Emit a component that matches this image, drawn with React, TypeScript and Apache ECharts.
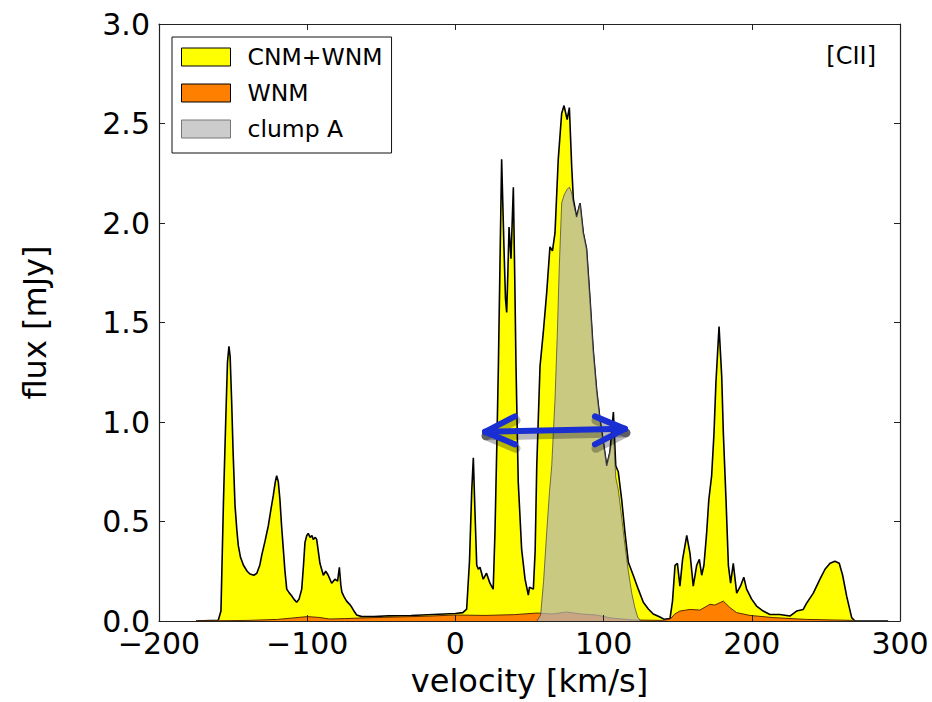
import React, { useEffect, useRef } from "react";
import * as echarts from "echarts";

// CNM+WNM total spectrum
const totalVel = [
  -175, -160, -158.2, -156.5, -155, -153.8, -152.8, -152, -151, -150, -148.7, -147.5, -146.5, -145, -143,
  -140.5, -138.6, -136, -134, -132, -130.7, -128.5, -126.2, -124.5, -122.9, -121.5, -120.6, -119.5, -118.4,
  -117.3, -116.1, -115, -113.8, -112, -110.5, -109, -107.1, -105.5, -103.7, -102.5, -101.5, -100.3, -99.3,
  -98, -96.8, -95.9, -94.5, -93.6, -92.5, -91.4, -89.1, -87.5, -85.8, -83.5, -81.3, -79.5, -78.3, -77.3,
  -76.6, -75, -73.4, -71.5, -70, -68, -66.6, -63.2, -55, -45, -30, -15, 0, 5, 7.6, 9.5, 11, 12.1, 13.2,
  14.4, 15.5, 16.6, 18.8, 21, 23.3, 25.5, 26.7, 28, 29, 30.2, 31.2, 32.8, 33.8, 34.6, 35.4, 36.2, 37.5,
  39.1, 40, 40.9, 42.4, 44.7, 47, 49.2, 50, 52.6, 53.8, 54.9, 57.1, 59.3, 61.6, 63.8, 65.5, 67.2, 69.4,
  71.7, 73.3, 75.4, 76.9, 78.5, 79.6, 81.8, 84.1, 86.3, 88.5, 90.8, 93, 95.3, 97.6, 99.8, 102.1, 104.3,
  106.6, 108.2, 109.9, 112.2, 114.4, 116.7, 120, 123.4, 126.8, 130.2, 133.5, 138, 141, 144.8, 146.5, 148.2,
  149.8, 151.5, 153.3, 156.1, 158.3, 160.5, 162.8, 164.6, 166.2, 167.7, 169.5, 171, 172.9, 174.5, 175.8,
  177.9, 179.7, 180.8, 182.6, 184.2, 185.7, 187.5, 189.8, 192.4, 194.6, 196.5, 199.9, 203.2, 207.7, 212.2,
  218.9, 225.7, 230.2, 234.7, 237, 241.5, 246, 249.4, 252.8, 256.1, 259, 261.3, 264, 267.4, 269.6, 292,
];
const totalFlux = [
  0, 0.004, 0.05, 0.6, 1.0, 1.3, 1.38, 1.33, 1.11, 0.85, 0.58, 0.46, 0.38, 0.32, 0.28,
  0.25, 0.236, 0.23, 0.24, 0.28, 0.33, 0.4, 0.48, 0.56, 0.63, 0.7, 0.73, 0.7, 0.61,
  0.48, 0.36, 0.25, 0.16, 0.14, 0.127, 0.11, 0.094, 0.11, 0.16, 0.28, 0.395, 0.43, 0.44,
  0.42, 0.43, 0.41, 0.42, 0.41, 0.35, 0.29, 0.23, 0.25, 0.23, 0.19, 0.21, 0.2, 0.27, 0.18,
  0.145, 0.12, 0.1, 0.085, 0.07, 0.045, 0.03, 0.022, 0.022, 0.026, 0.028, 0.033, 0.038, 0.042, 0.06, 0.3, 0.65, 0.82, 0.55,
  0.28, 0.26, 0.27, 0.21, 0.24, 0.19, 0.16, 0.445, 0.9, 1.28, 1.85, 2.32, 1.87, 1.62, 1.55, 1.75, 1.98, 1.82,
  2.18, 1.75, 1.28, 0.7, 0.36, 0.21, 0.13, 0.17, 0.16, 0.35, 0.78, 1.28, 1.45, 1.65, 1.88, 1.86, 1.95, 2.32,
  2.55, 2.59, 2.52, 2.58, 2.28, 2.12, 2.03, 2.1, 1.95, 1.87, 1.62, 1.36, 1.16, 1.01, 0.9, 0.78, 0.85,
  1.05, 0.78, 0.75, 0.61, 0.445, 0.295, 0.23, 0.16, 0.094, 0.06, 0.035, 0.02, 0.008, 0.012, 0.1, 0.28,
  0.29, 0.175, 0.31, 0.43, 0.34, 0.175, 0.28, 0.31, 0.23, 0.28, 0.44, 0.61, 0.73, 0.945, 1.2,
  1.48, 1.23, 0.945, 0.61, 0.28, 0.19, 0.29, 0.14, 0.176, 0.22, 0.16, 0.11, 0.075, 0.05, 0.033,
  0.033, 0.025, 0.05, 0.058, 0.09, 0.14, 0.21, 0.26, 0.29, 0.3, 0.29, 0.23, 0.125, 0.017, 0, 0,
];

// WNM component
const wnmVel = [
  -175, -140, -120, -110, -100, -92, -85, -75, -60, -40, -20, 0, 20, 40, 55, 65, 75, 85, 95, 105, 120,
  140, 145, 148, 151.5, 158.3, 165, 171.8, 175, 180.8, 185.3, 189.8, 198.8, 214.5, 236.9, 268, 270,
];
const wnmFlux = [
  0, 0.003, 0.008, 0.015, 0.022, 0.018, 0.01, 0.012, 0.016, 0.02, 0.024, 0.03, 0.028, 0.032, 0.04, 0.035,
  0.045, 0.035, 0.03, 0.015, 0.005, 0.003, 0.01, 0.035, 0.05, 0.058, 0.055, 0.084, 0.08, 0.1, 0.067, 0.042,
  0.028, 0.017, 0.008, 0.003, 0,
];

// clump A component
const clumpVel = [
  55, 57.5, 59.5, 61.6, 63.5, 65, 67.2, 68.8, 70.1, 71.7, 73.3, 75.4, 77, 78.5, 79.6, 81.8, 84.1, 86.3,
  88.5, 90.8, 93, 95.3, 97.6, 99.8, 102.1, 104.3, 106.6, 108.2, 109.9, 112.2, 114.4, 116.7, 119, 121, 123, 125,
];
const clumpFlux = [
  0, 0.03, 0.2, 0.445, 0.65, 0.78, 1.11, 1.45, 1.78, 2.1, 2.14, 2.17, 2.18, 2.15, 2.1, 2.03, 2.1, 1.95,
  1.87, 1.62, 1.36, 1.16, 1.01, 0.9, 0.78, 0.85, 0.95, 0.72, 0.66, 0.52, 0.38, 0.25, 0.14, 0.07, 0.02, 0,
];

// velocity-width arrow annotation: [start velocity, flux level, end velocity]
const arrowData = [[20, 0.958, 114.4]];

const xTicks = { min: -200, max: 300, interval: 100 };
const yTicks = { min: 0, max: 3, interval: 0.5 };

const zip = (xs: number[], ys: number[]) => xs.map((x, i) => [x, ys[i]]);

const FONT = "DejaVu Sans";

export default function App() {
  const ref = useRef<HTMLDivElement>(null);
  useEffect(() => {
    if (!ref.current) return;
    const chart = echarts.init(ref.current, undefined, { renderer: "svg" });
    const tickStyle = { inside: true, length: 6, lineStyle: { color: "#222", width: 1 } };
    const lineAxis = { show: true, onZero: false, lineStyle: { color: "#222", width: 1.2 } };
    chart.setOption({
      animation: false,
      backgroundColor: "#fff",
      grid: { left: 159, top: 24, width: 741, height: 598, containLabel: false },
      legend: {
        orient: "vertical",
        left: 172,
        top: 37,
        padding: [8, 9, 12, 9],
        itemWidth: 49,
        itemHeight: 18,
        itemGap: 12,
        borderColor: "#111",
        borderWidth: 1,
        backgroundColor: "#fff",
        icon: "rect",
        textStyle: { fontFamily: FONT, fontSize: 23.5, color: "#000", padding: [0, 0, 0, 12] },
        data: [
          { name: "CNM+WNM", itemStyle: { color: "#ffff00", borderColor: "#000", borderWidth: 1 } },
          { name: "WNM", itemStyle: { color: "#ff7f00", borderColor: "#000", borderWidth: 1 } },
          { name: "clump A", itemStyle: { color: "#cccccc", borderColor: "#777", borderWidth: 1 } },
        ],
      },
      xAxis: [
        {
          type: "value",
          ...xTicks,
          position: "bottom",
          z: 10,
          axisLine: lineAxis,
          axisTick: tickStyle,
          splitLine: { show: false },
          axisLabel: {
            fontFamily: FONT,
            fontSize: 30,
            color: "#000",
            margin: 7,
            formatter: (v: number) => String(v).replace("-", "\u2212"),
          },
          name: "velocity [km/s]",
          nameLocation: "middle",
          nameGap: 44,
          nameTextStyle: { fontFamily: FONT, fontSize: 32, color: "#000" },
        },
        {
          type: "value",
          ...xTicks,
          position: "top",
          z: 10,
          axisLine: lineAxis,
          axisTick: tickStyle,
          splitLine: { show: false },
          axisLabel: { show: false },
        },
      ],
      yAxis: [
        {
          type: "value",
          ...yTicks,
          position: "left",
          z: 10,
          axisLine: lineAxis,
          axisTick: tickStyle,
          splitLine: { show: false },
          axisLabel: {
            fontFamily: FONT,
            fontSize: 30,
            color: "#000",
            margin: 9,
            formatter: (v: number) => v.toFixed(1),
          },
          name: "flux [mJy]",
          nameLocation: "middle",
          nameGap: 108,
          nameTextStyle: { fontFamily: FONT, fontSize: 32, color: "#000" },
        },
        {
          type: "value",
          ...yTicks,
          position: "right",
          z: 10,
          axisLine: lineAxis,
          axisTick: tickStyle,
          splitLine: { show: false },
          axisLabel: { show: false },
        },
      ],
      graphic: [
        {
          type: "text",
          right: 56,
          top: 44,
          z: 20,
          style: { text: "[CII]", fontFamily: FONT, fontSize: 24, fill: "#000" },
        },
      ],
      series: [
        {
          name: "CNM+WNM",
          type: "line",
          data: zip(totalVel, totalFlux),
          showSymbol: false,
          symbol: "none",
          itemStyle: { color: "#ffff00" },
          lineStyle: { color: "#000", width: 1.6 },
          areaStyle: { color: "#ffff00", opacity: 1 },
          z: 2,
        },
        {
          name: "WNM",
          type: "line",
          data: zip(wnmVel, wnmFlux),
          showSymbol: false,
          symbol: "none",
          itemStyle: { color: "#ff7f00" },
          lineStyle: { color: "#5a2a00", width: 1 },
          areaStyle: { color: "#ff7f00", opacity: 1 },
          z: 3,
        },
        {
          name: "clump A",
          type: "line",
          data: zip(clumpVel, clumpFlux),
          showSymbol: false,
          symbol: "none",
          itemStyle: { color: "#cccccc" },
          lineStyle: { color: "rgba(60,60,60,0.7)", width: 1 },
          areaStyle: { color: "rgba(180,180,180,0.72)", opacity: 1 },
          z: 4,
        },
        {
          name: "arrow",
          type: "custom",
          z: 8,
          encode: { x: [0, 2], y: 1 },
          data: arrowData,
          renderItem: (params: any, api: any) => {
            const y = api.value(1);
            const p1 = api.coord([api.value(0), y]);
            const p2 = api.coord([api.value(2), y]);
            const hx = 30;
            const hy = 14;
            const segs = [
              [p1[0], p1[1] + 1.5, p2[0], p2[1] - 1.5],
              [p1[0], p1[1] + 1.5, p1[0] + hx, p1[1] - hy],
              [p1[0], p1[1] + 1.5, p1[0] + hx, p1[1] + hy],
              [p2[0], p2[1] - 1.5, p2[0] - hx, p2[1] - hy],
              [p2[0], p2[1] - 1.5, p2[0] - hx, p2[1] + hy],
            ];
            const shadow = {
              stroke: "rgba(0,0,0,0.28)",
              lineWidth: 9,
              lineCap: "round",
            };
            const base = { stroke: "#1a2fd2", lineWidth: 6, lineCap: "round" };
            const children: any[] = [];
            segs.forEach((s) =>
              children.push({
                type: "line",
                shape: { x1: s[0] + 1, y1: s[1] + 4, x2: s[2] + 1, y2: s[3] + 4 },
                style: shadow,
              })
            );
            segs.forEach((s) =>
              children.push({ type: "line", shape: { x1: s[0], y1: s[1], x2: s[2], y2: s[3] }, style: base })
            );
            return { type: "group", children };
          },
        },
      ],
    });
    return () => chart.dispose();
  }, []);
  return (
    <div
      ref={ref}
      style={{ position: "fixed", left: 0, top: 0, width: 932, height: 702, background: "#fff" }}
    />
  );
}
